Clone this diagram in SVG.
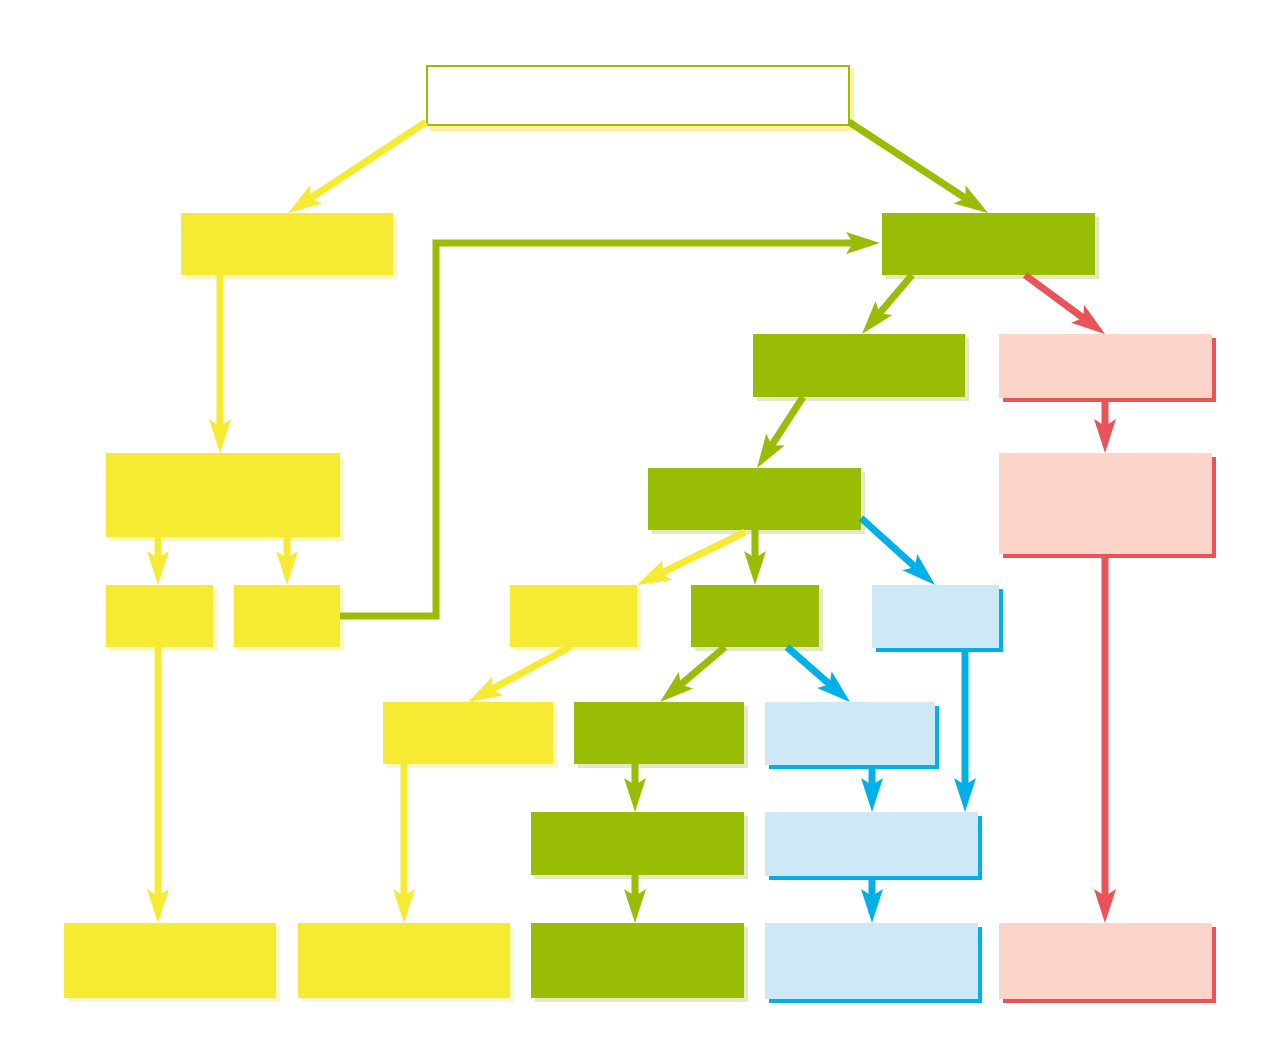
<svg xmlns="http://www.w3.org/2000/svg" width="1275" height="1062" viewBox="0 0 1275 1062">
<style>
.y{fill:#f6eb32}.ys{fill:#fdf6c6}
.g{fill:#99bd05}.gs{fill:#e4e8c6}
.b{fill:#cde8f6}.bs{fill:#00b0e6}
.p{fill:#fcd4c8}.ps{fill:#e8545a}
.c{fill:none;stroke-width:7;stroke-linejoin:miter}
.cy{stroke:#f6eb32}.cg{stroke:#99bd05}.cb{stroke:#00b0e6}.cr{stroke:#e8545a}
</style>
<defs>
<marker id="ay" markerUnits="userSpaceOnUse" markerWidth="40" markerHeight="24" refX="14" refY="11" orient="auto"><path d="M0,0 L34,11 L0,22 L7,11 Z" fill="#f6eb32"/></marker>
<marker id="ag" markerUnits="userSpaceOnUse" markerWidth="40" markerHeight="24" refX="14" refY="11" orient="auto"><path d="M0,0 L34,11 L0,22 L7,11 Z" fill="#99bd05"/></marker>
<marker id="ab" markerUnits="userSpaceOnUse" markerWidth="40" markerHeight="24" refX="14" refY="11" orient="auto"><path d="M0,0 L34,11 L0,22 L7,11 Z" fill="#00b0e6"/></marker>
<marker id="ar" markerUnits="userSpaceOnUse" markerWidth="40" markerHeight="24" refX="14" refY="11" orient="auto"><path d="M0,0 L34,11 L0,22 L7,11 Z" fill="#e8545a"/></marker>
</defs>
<rect width="1275" height="1062" fill="#ffffff"/>
<g id="nodes">
<g id="n-top"><rect x="430" y="69" width="424" height="62" fill="#fdf29c"/><rect x="427" y="66" width="422" height="59" fill="#ffffff" stroke="#99bd05" stroke-width="2"/></g>
<g id="n-y1"><rect class="ys" x="185" y="217" width="212" height="62"/><rect class="y" x="181" y="213" width="212" height="62"/></g>
<g id="n-g1"><rect class="gs" x="886" y="217" width="213" height="62"/><rect class="g" x="882" y="213" width="213" height="62"/></g>
<g id="n-g2"><rect class="gs" x="757" y="338" width="212" height="63"/><rect class="g" x="753" y="334" width="212" height="63"/></g>
<g id="n-p1"><rect class="ps" x="1003" y="338" width="213" height="64"/><rect class="p" x="999" y="334" width="213" height="64"/></g>
<g id="n-y2"><rect class="ys" x="110" y="457" width="234" height="84"/><rect class="y" x="106" y="453" width="234" height="84"/></g>
<g id="n-g3"><rect class="gs" x="652" y="472" width="213" height="62"/><rect class="g" x="648" y="468" width="213" height="62"/></g>
<g id="n-p2"><rect class="ps" x="1003" y="457" width="213" height="101"/><rect class="p" x="999" y="453" width="213" height="101"/></g>
<g id="n-y3"><rect class="ys" x="110" y="589" width="107" height="62"/><rect class="y" x="106" y="585" width="107" height="62"/></g>
<g id="n-y4"><rect class="ys" x="238" y="589" width="106" height="62"/><rect class="y" x="234" y="585" width="106" height="62"/></g>
<g id="n-y5"><rect class="ys" x="514" y="589" width="127" height="62"/><rect class="y" x="510" y="585" width="127" height="62"/></g>
<g id="n-g4"><rect class="gs" x="695" y="589" width="128" height="62"/><rect class="g" x="691" y="585" width="128" height="62"/></g>
<g id="n-b1"><rect class="bs" x="876" y="589" width="127" height="63"/><rect class="b" x="872" y="585" width="127" height="63"/></g>
<g id="n-y6"><rect class="ys" x="387" y="706" width="170" height="62"/><rect class="y" x="383" y="702" width="170" height="62"/></g>
<g id="n-g5"><rect class="gs" x="578" y="706" width="170" height="62"/><rect class="g" x="574" y="702" width="170" height="62"/></g>
<g id="n-b2"><rect class="bs" x="769" y="706" width="170" height="63"/><rect class="b" x="765" y="702" width="170" height="63"/></g>
<g id="n-g6"><rect class="gs" x="535" y="816" width="213" height="63"/><rect class="g" x="531" y="812" width="213" height="63"/></g>
<g id="n-b3"><rect class="bs" x="769" y="816" width="213" height="64"/><rect class="b" x="765" y="812" width="213" height="64"/></g>
<g id="n-y7"><rect class="ys" x="68" y="927" width="212" height="75"/><rect class="y" x="64" y="923" width="212" height="75"/></g>
<g id="n-y8"><rect class="ys" x="302" y="927" width="212" height="75"/><rect class="y" x="298" y="923" width="212" height="75"/></g>
<g id="n-g7"><rect class="gs" x="535" y="927" width="213" height="75"/><rect class="g" x="531" y="923" width="213" height="75"/></g>
<g id="n-b4"><rect class="bs" x="769" y="927" width="213" height="76"/><rect class="b" x="765" y="923" width="213" height="76"/></g>
<g id="n-p3"><rect class="ps" x="1003" y="927" width="213" height="76"/><rect class="p" x="999" y="923" width="213" height="76"/></g>
</g>
<g id="connectors">
<path class="c cy" d="M426,122 L304.7,202" marker-end="url(#ay)"/>
<path class="c cg" d="M849,122 L971.3,202" marker-end="url(#ag)"/>
<path class="c cy" d="M220,275 L220,433" marker-end="url(#ay)"/>
<path class="c cg" d="M340,616 L436,616 L436,243 L860,243" marker-end="url(#ag)"/>
<path class="c cg" d="M912,275 L874.9,318.7" marker-end="url(#ag)"/>
<path class="c cr" d="M1025,275 L1088.9,322.1" marker-end="url(#ar)"/>
<path class="c cr" d="M1105,398 L1105,433" marker-end="url(#ar)"/>
<path class="c cr" d="M1105,554 L1105,903" marker-end="url(#ar)"/>
<path class="c cg" d="M803,397 L767.9,451.2" marker-end="url(#ag)"/>
<path class="c cy" d="M158,537 L158,565" marker-end="url(#ay)"/>
<path class="c cy" d="M287,537 L287,565" marker-end="url(#ay)"/>
<path class="c cy" d="M158,647 L158,903" marker-end="url(#ay)"/>
<path class="c cy" d="M745,532 L655,576.2" marker-end="url(#ay)"/>
<path class="c cg" d="M755,530 L755,565" marker-end="url(#ag)"/>
<path class="c cb" d="M861,518 L920.2,571.6" marker-end="url(#ab)"/>
<path class="c cy" d="M570,647 L485.6,692.5" marker-end="url(#ay)"/>
<path class="c cg" d="M725,647 L675.3,689.1" marker-end="url(#ag)"/>
<path class="c cb" d="M787,647 L834.9,688.8" marker-end="url(#ab)"/>
<path class="c cb" d="M965,648 L965,792" marker-end="url(#ab)"/>
<path class="c cy" d="M404,764 L404,903" marker-end="url(#ay)"/>
<path class="c cg" d="M635,764 L635,792" marker-end="url(#ag)"/>
<path class="c cg" d="M635,875 L635,903" marker-end="url(#ag)"/>
<path class="c cb" d="M872,765 L872,792" marker-end="url(#ab)"/>
<path class="c cb" d="M872,876 L872,903" marker-end="url(#ab)"/>
</g>
</svg>
